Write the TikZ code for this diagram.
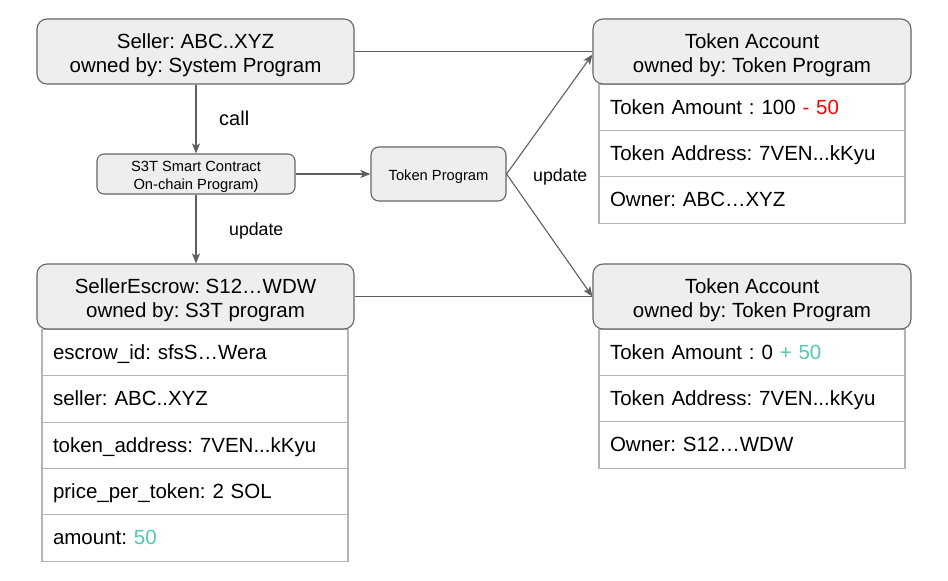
\documentclass[tikz,border=0pt]{standalone}
\usepackage{fontspec}
\setmainfont{Liberation Sans}
\usetikzlibrary{arrows.meta,calc}
\frenchspacing
\definecolor{hdrfill}{HTML}{EEEEEE}
\definecolor{hdrline}{HTML}{666666}
\definecolor{rowline}{HTML}{B3B3B3}
\definecolor{connline}{HTML}{5F5F5F}
\definecolor{minusred}{HTML}{FF0000}
\definecolor{plusteal}{HTML}{52C9B4}
\newcommand{\hstrut}[1]{\rule{0pt}{#1}}
\begin{document}
\begin{tikzpicture}[x=1pt,y=-1pt,
  hdr/.style={draw=hdrline, fill=hdrfill, line width=1.1pt, rounded corners=10pt,
    minimum width=317pt, minimum height=65pt, inner sep=0pt, align=center,
    font=\fontsize{20.5}{24.4}\selectfont},
  small/.style={draw=hdrline, fill=hdrfill, line width=1.1pt, rounded corners=7pt,
    inner sep=0pt, align=center, font=\fontsize{14.7}{18.5}\selectfont},
  row/.style={draw=rowline, fill=white, line width=1.2pt, minimum width=306pt,
    minimum height=46.5pt, inner xsep=11pt, inner ysep=0pt, text width=284pt,
    text height=13.6pt, text depth=0pt,
    align=left, font=\fontsize{20.5}{24.5}\selectfont},
  conn/.style={draw=connline, line width=1.1pt},
  tip/.style={-{Stealth[length=10pt,width=8pt,inset=2.5pt]}},
  lbl/.style={inner sep=0pt, anchor=base west}
]
\useasboundingbox (0,0) rectangle (948,581);

% rows of token account 1
\node[row] (ta1r1) at (752,107.5) {Token Amount : 100 \textcolor{minusred}{- 50}};
\node[row] (ta1r2) at (752,154) {Token Address: 7VEN...kKyu};
\node[row] (ta1r3) at (752,200) {Owner: ABC…XYZ};
% rows of token account 2
\node[row] (ta2r1) at (752,352.5) {Token Amount : 0 \textcolor{plusteal}{+ 50}};
\node[row] (ta2r2) at (752,399) {Token Address: 7VEN...kKyu};
\node[row] (ta2r3) at (752,445) {Owner: S12…WDW};
% rows of escrow
\node[row] (er1) at (195,352.5) {escrow\_id: sfsS…Wera};
\node[row] (er2) at (195,399) {seller: ABC..XYZ};
\node[row] (er3) at (195,445.5) {token\_address: 7VEN...kKyu};
\node[row] (er4) at (195,492) {price\_per\_token: 2 SOL};
\node[row] (er5) at (195,538) {amount: \textcolor{plusteal}{50}};

% headers
\node[hdr] (seller) at (195.5,51.5) {\hstrut{22pt}Seller: ABC..XYZ\\owned by: System Program};
\node[hdr, minimum width=318pt] (ta1) at (752,51.5) {\hstrut{22pt}Token Account\\owned by: Token Program};
\node[hdr, minimum width=318pt] (ta2) at (752,296.5) {\hstrut{22pt}Token Account\\owned by: Token Program};
\node[hdr] (escrow) at (195.5,296.5) {\hstrut{22pt}SellerEscrow: S12…WDW\\owned by: S3T program};

% program boxes
\node[small, minimum width=198pt, minimum height=40pt] (s3t) at (196,174) {\hstrut{15.6pt}S3T Smart Contract\\On-chain Program)};
\node[small, minimum width=135pt, minimum height=54pt, rounded corners=8pt,
  text height=15.1pt, text depth=3.1pt] (tp) at (438.5,174) {Token Program};

% connectors
\draw[conn,tip] (seller.south -| s3t.north) -- (s3t.north);
\draw[conn,tip] (s3t.south) -- (s3t.south |- escrow.north);
\draw[conn,tip] (s3t.east) -- (tp.west);
\draw[conn] (seller.east) -- (ta1.west);
\draw[conn] (escrow.east) -- (ta2.west);
\draw[conn,tip] (tp.east) -- ($(ta1.west)+(0,3)$);
\draw[conn,tip] (tp.east) -- (ta2.west);

% labels
\node[lbl, font=\fontsize{20}{24}\selectfont] (lcall) at (219,125) {call};
\node[lbl, font=\fontsize{17.7}{21}\selectfont] (lupd1) at (229,235.5) {update};
\node[lbl, font=\fontsize{17.7}{21}\selectfont] (lupd2) at (533,181.5) {update};
\end{tikzpicture}
\end{document}
